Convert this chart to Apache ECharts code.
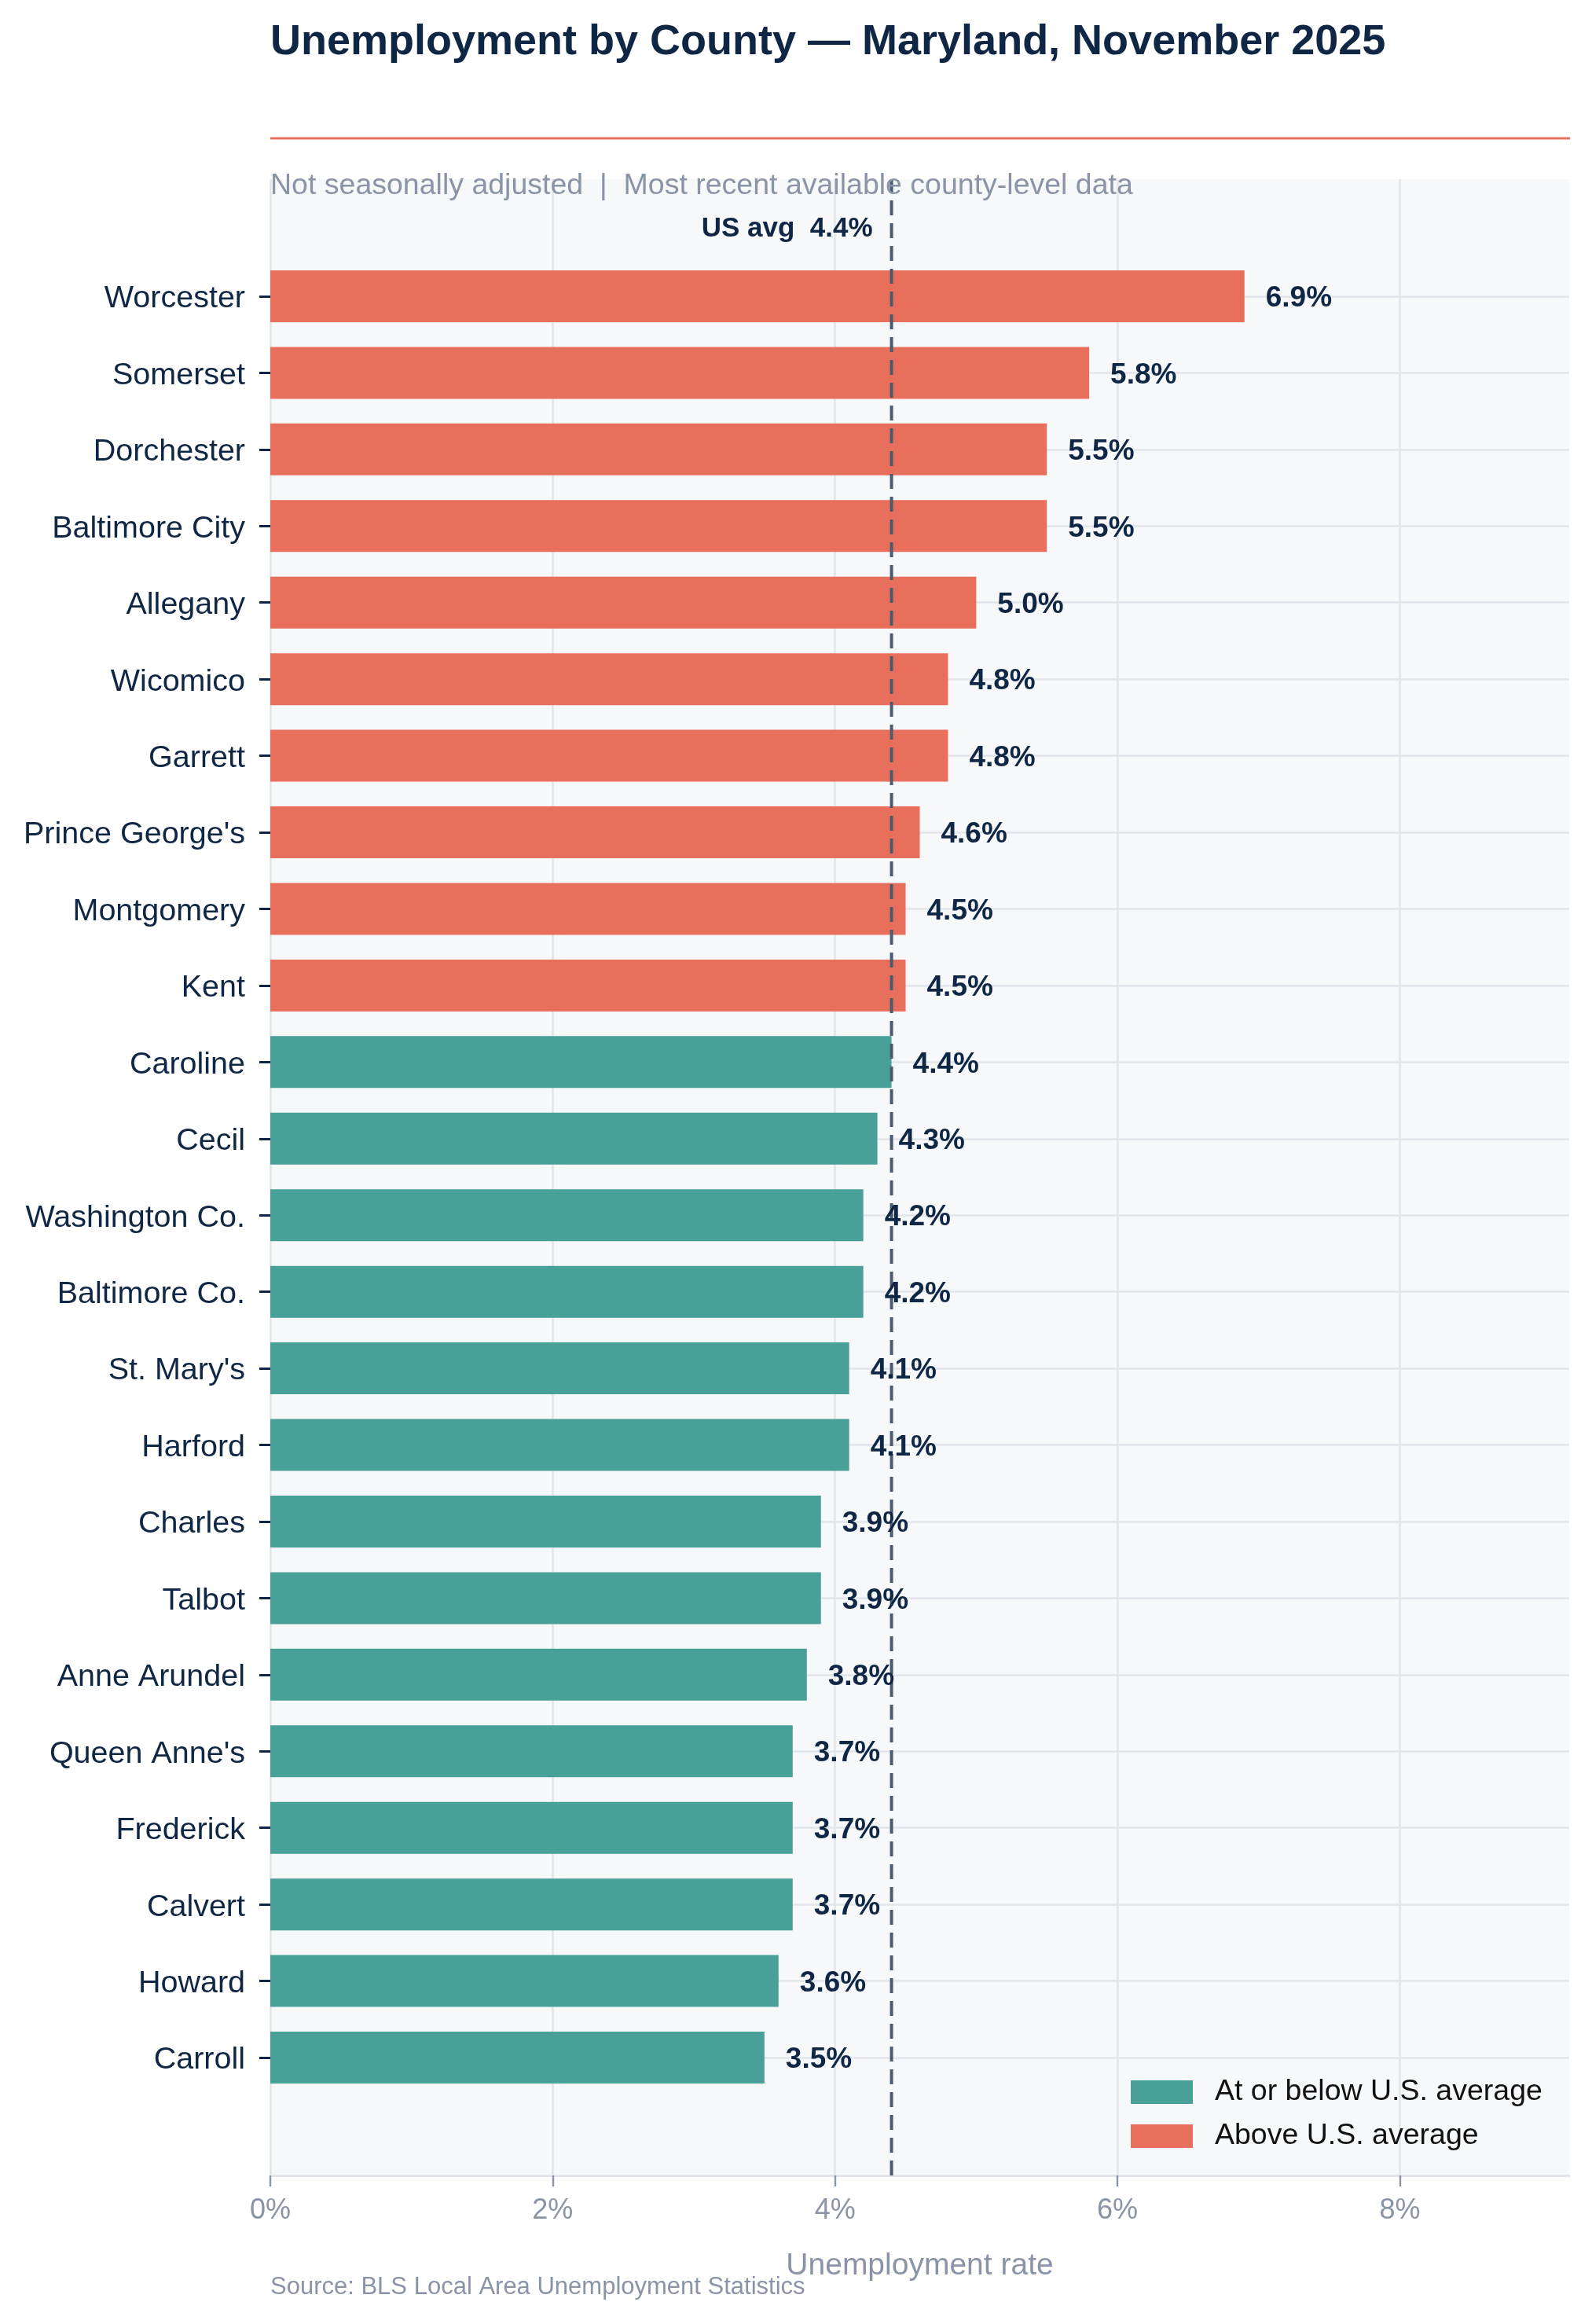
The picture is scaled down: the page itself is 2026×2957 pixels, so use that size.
<!DOCTYPE html>
<html>
<head>
<meta charset="utf-8">
<script src="https://cdn.jsdelivr.net/npm/echarts@6/dist/echarts.min.js"></script>
<style>
html,body{margin:0;padding:0;background:#fff;}
#chart{width:2026px;height:2957px;}
</style>
</head>
<body>
<div id="chart"></div>
<script>
// ---- data ----
const counties = ["Worcester","Somerset","Dorchester","Baltimore City","Allegany","Wicomico","Garrett","Prince George's","Montgomery","Kent","Caroline","Cecil","Washington Co.","Baltimore Co.","St. Mary's","Harford","Charles","Talbot","Anne Arundel","Queen Anne's","Frederick","Calvert","Howard","Carroll"];
const rates = [6.9,5.8,5.5,5.5,5.0,4.8,4.8,4.6,4.5,4.5,4.4,4.3,4.2,4.2,4.1,4.1,3.9,3.9,3.8,3.7,3.7,3.7,3.6,3.5];
const usAvg = 4.4;
const xTicks = [0,2,4,6,8];
const xMax = 9.2;
const titleText = "Unemployment by County \u2014 Maryland, November 2025";
const subtitleText = "Not seasonally adjusted  |  Most recent available county-level data";
const sourceText = "Source: BLS Local Area Unemployment Statistics";
const seriesNames = ["At or below U.S. average", "Above U.S. average"];

// ---- styles ----
const FONT = "'Liberation Sans', Arial, sans-serif";
const NAVY = "#0f2744";
const GRAY = "#8a94a6";
const TEAL = "#48a098";
const CORAL = "#e86f5c";
const GRID = "#e2e6eb";

const below = rates.map(v => v <= usAvg ? v : '-');
const above = rates.map(v => v > usAvg ? v : '-');

const chart = echarts.init(document.getElementById('chart'), null, {renderer: 'canvas'});
const L = 344, R = 29, T = 228, B = 189;
const option = {
  backgroundColor: '#ffffff',
  animation: false,
  textStyle: {fontFamily: FONT},
  grid: [
    {left: L, right: R, top: T, bottom: B, show: true, backgroundColor: '#f7f8fa', borderWidth: 0, containLabel: false},
    {left: L, right: R, top: 377, bottom: 339, show: false, containLabel: false}
  ],
  xAxis: [
    {
      gridIndex: 0, type: 'value', min: 0, max: xMax, interval: 2,
      name: 'Unemployment rate', nameLocation: 'middle', nameGap: 96,
      nameTextStyle: {fontSize: 39, color: GRAY, fontFamily: FONT},
      axisLine: {show: true, lineStyle: {color: GRID, width: 3}},
      axisTick: {show: true, length: 14, lineStyle: {color: '#8a95a5', width: 2.4}, customValues: xTicks},
      axisLabel: {fontSize: 36, color: GRAY, margin: 27, formatter: v => v + '%', customValues: xTicks, fontFamily: FONT},
      splitLine: {show: true, lineStyle: {color: GRID, width: 2.6}}
    },
    {
      gridIndex: 1, type: 'value', min: 0, max: xMax, show: false,
      splitLine: {show: false}
    }
  ],
  yAxis: [
    {gridIndex: 0, type: 'value', min: 0, max: 1, show: false, splitLine: {show: false}},
    {
      gridIndex: 1, type: 'category', data: counties, inverse: true, boundaryGap: false,
      axisLine: {show: false},
      axisTick: {show: true, length: 14, lineStyle: {color: NAVY, width: 3}},
      axisLabel: {fontSize: 39.5, color: NAVY, margin: 32, verticalAlign: 'top', lineHeight: 7, fontFamily: FONT},
      splitLine: {show: true, lineStyle: {color: GRID, width: 2.6}}
    }
  ],
  legend: {
    orient: 'vertical', left: 1434, top: 2638,
    data: seriesNames,
    icon: 'rect', itemWidth: 79, itemHeight: 30, itemGap: 18,
    textStyle: {fontSize: 37.5, color: '#111111', lineHeight: 30, padding: [0,0,0,23], fontFamily: FONT},
    selectedMode: false
  },
  series: [
    {
      name: seriesNames[0], type: 'bar', xAxisIndex: 1, yAxisIndex: 1,
      data: below, barWidth: 66, barGap: '-100%', clip: false, z: 2,
      itemStyle: {color: TEAL}
    },
    {
      name: seriesNames[1], type: 'bar', xAxisIndex: 1, yAxisIndex: 1,
      data: above, barWidth: 66, barGap: '-100%', clip: false, z: 2,
      itemStyle: {color: CORAL}
    },
    {
      name: 'avg', type: 'line', xAxisIndex: 0, yAxisIndex: 0, z: 3,
      data: [[usAvg, 0], [usAvg, 1]], symbol: 'none', silent: true,
      lineStyle: {color: '#4b5a6e', width: 4, type: [19, 10]},
      markPoint: {
        symbol: 'circle', symbolSize: 0, silent: true,
        data: [{coord: [usAvg, 1], value: usAvg}],
        label: {
          show: true, position: 'left', distance: 0, offset: [-24, 63],
          formatter: p => 'US avg  ' + usAvg.toFixed(1) + '%',
          fontSize: 35, fontWeight: 'bold', color: NAVY, fontFamily: FONT
        }
      }
    },
    {
      name: 'values', type: 'bar', xAxisIndex: 1, yAxisIndex: 1,
      data: rates, barWidth: 66, barGap: '-100%', clip: false, z: 5, silent: true,
      itemStyle: {color: 'rgba(0,0,0,0)'},
      label: {
        show: true, position: 'right', distance: 27, offset: [0, 3],
        formatter: p => p.value.toFixed(1) + '%',
        fontSize: 37, fontWeight: 'bold', color: NAVY, fontFamily: FONT
      }
    }
  ],
  graphic: [
    {type: 'text', z: 100, style: {x: 344, y: 54, text: titleText, font: "bold 54px " + FONT, fill: NAVY, textAlign: 'left', textVerticalAlign: 'middle', verticalAlign: 'middle'}},
    {type: 'line', z: 100, shape: {x1: 344, y1: 176, x2: 1998, y2: 176}, style: {stroke: CORAL, lineWidth: 3}},
    {type: 'text', z: 100, style: {x: 344, y: 237, text: subtitleText, font: "37.5px " + FONT, fill: GRAY, textAlign: 'left', textVerticalAlign: 'middle', verticalAlign: 'middle'}},
    {type: 'text', z: 100, style: {x: 344, y: 2910, text: sourceText, font: "31px " + FONT, fill: GRAY, textAlign: 'left', textVerticalAlign: 'middle', verticalAlign: 'middle'}}
  ]
};
chart.setOption(option);
</script>
</body>
</html>
